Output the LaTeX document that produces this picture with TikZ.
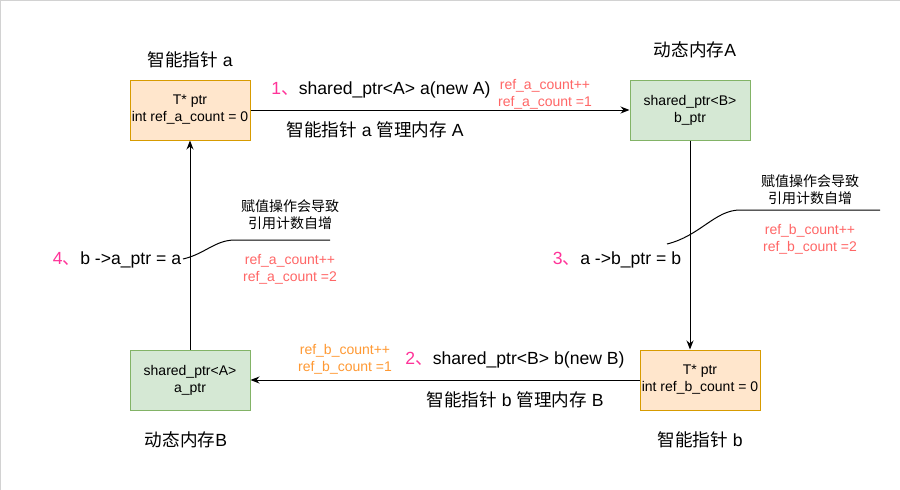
\documentclass[tikz,border=0pt]{standalone}
\usepackage{fontspec}
\setmainfont{Liberation Sans}
\newfontfamily\cjk{Noto Sans CJK SC}
\usetikzlibrary{arrows.meta}
\definecolor{ofill}{HTML}{FFE6CC}
\definecolor{odraw}{HTML}{D79B00}
\definecolor{gfill}{HTML}{D5E8D4}
\definecolor{gdraw}{HTML}{82B366}
\definecolor{pinkc}{HTML}{FF3399}
\definecolor{redc}{HTML}{FF6666}
\definecolor{orgc}{HTML}{FF9933}
\newcommand\zh[1]{{\cjk #1}}
\tikzset{
  obox/.style={draw=odraw,fill=ofill,line width=1pt,minimum width=120pt,minimum height=60pt,inner sep=0pt,align=center,font=\fontsize{14}{17}\selectfont},
  gbox/.style={draw=gdraw,fill=gfill,line width=1pt,minimum width=120pt,minimum height=60pt,inner sep=0pt,align=center,font=\fontsize{14}{17}\selectfont},
  big/.style={inner sep=0pt,align=center,font=\fontsize{17.6}{20}\selectfont},
  small/.style={inner sep=0pt,align=center,font=\fontsize{14}{17}\selectfont},
  arr/.style={line width=1pt,-{Stealth[length=9pt,width=7pt]}},
  thin/.style={line width=1pt}
}
\begin{document}
\begin{tikzpicture}[x=1pt,y=-1pt]
\useasboundingbox (0,0) rectangle (900,490);
\fill[white] (0,0) rectangle (900,490);
\draw[gray!35,line width=1.2pt] (0.5,490) -- (0.5,0.5) -- (900,0.5);
% boxes
\node[obox] (pa) at (190,110) {T* ptr\\int ref\_a\_count = 0};
\node[gbox] (ma) at (690,110) {shared\_ptr<B>\\b\_ptr};
\node[obox] (pb) at (700,380) {T* ptr\\int ref\_b\_count = 0};
\node[gbox] (mb) at (190,380) {shared\_ptr<A>\\a\_ptr};
% titles
\node[big] (ta) at (190,60) {\zh{智能指针} a};
\node[big] (tma) at (695,50) {\zh{动态内存}A};
\node[big] (tb) at (700,440) {\zh{智能指针} b};
\node[big] (tmb) at (186,440) {\zh{动态内存}B};
% arrows
\draw[arr] (pa.east) -- (ma.west);
\draw[arr] (ma.south) -- (ma.south |- pb.north);
\draw[arr] (pb.west) -- (mb.east);
\draw[arr] (mb.north) -- (pa.south);
% step 1
\node[big] (s1) at (381,90) {{\color{pinkc}1\zh{、}}shared\_ptr<A> a(new A)};
\node[big] (s1b) at (375,130) {\zh{智能指针} a \zh{管理内存} A};
\node[small,text=redc] (c1) at (545,94) {ref\_a\_count++\\ref\_a\_count =1};
% step 2
\node[big] (s2) at (515,360) {{\color{pinkc}2\zh{、}}shared\_ptr<B> b(new B)};
\node[big] (s2b) at (515,400) {\zh{智能指针} b \zh{管理内存} B};
\node[small,text=orgc] (c2) at (345,359) {ref\_b\_count++\\ref\_b\_count =1};
% step 3
\node[big] (s3) at (617,260) {{\color{pinkc}3\zh{、}}a ->b\_ptr = b};
\coordinate (k3a) at (667,244);
\coordinate (k3b) at (740,210);
\coordinate (k3c) at (880,210);
\draw[thin] (k3a) .. controls (700,236) and (715,210) .. (k3b) -- (k3c);
\node[small] (n3) at (810,190) {\zh{赋值操作会导致}\\\zh{引用计数自增}};
\node[small,text=redc] (c3) at (810,239) {ref\_b\_count++\\ref\_b\_count =2};
% step 4
\node[big] (s4) at (117,260) {{\color{pinkc}4\zh{、}}b ->a\_ptr = a};
\coordinate (k4a) at (183,259);
\coordinate (k4b) at (235,240);
\coordinate (k4c) at (330,240);
\draw[thin] (k4a) .. controls (205,254) and (215,240) .. (k4b) -- (k4c);
\node[small] (n4) at (290,215) {\zh{赋值操作会导致}\\\zh{引用计数自增}};
\node[small,text=redc] (c4) at (290,269) {ref\_a\_count++\\ref\_a\_count =2};
\end{tikzpicture}
\end{document}
